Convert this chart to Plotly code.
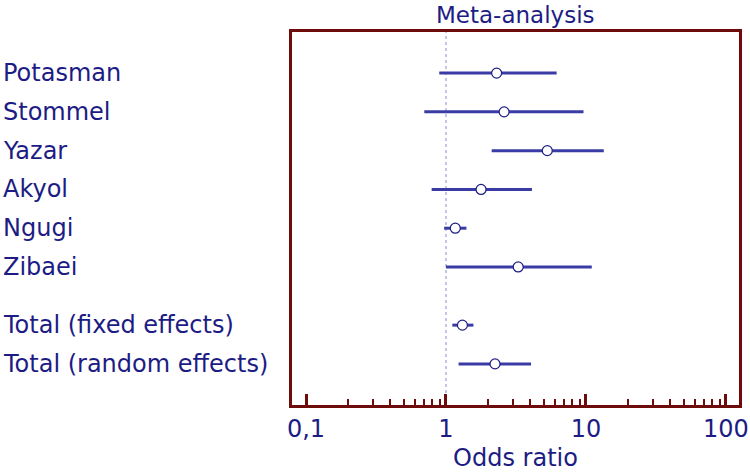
import plotly.graph_objects as go

studies = ["Potasman", "Stommel", "Yazar", "Akyol", "Ngugi", "Zibaei",
           "Total (fixed effects)", "Total (random effects)"]
row_pos = [0, 1, 2, 3, 4, 5, 6.5, 7.5]
odds = [2.30, 2.60, 5.29, 1.78, 1.165, 3.28, 1.31, 2.24]
ci_low = [0.895, 0.70, 2.12, 0.79, 0.97, 1.00, 1.11, 1.23]
ci_high = [6.17, 9.6, 13.4, 4.11, 1.40, 11.0, 1.57, 4.05]

major_ticks = [0.1, 1, 10, 100]
major_labels = ["0,1", "1", "10", "100"]
minor_ticks = [m * d for d in (0.1, 1, 10) for m in range(2, 10)]

navy = "#1c1c84"
line_col = "#3b3ba6"
frame_col = "#6e0c0c"
FONT = "DejaVu Sans, Verdana, Arial"

fig = go.Figure()

# CI lines
for i in range(len(studies)):
    fig.add_trace(go.Scatter(
        x=[ci_low[i], ci_high[i]], y=[row_pos[i], row_pos[i]],
        mode="lines", line=dict(color=line_col, width=3),
        showlegend=False, hoverinfo="skip"))

# point estimates
fig.add_trace(go.Scatter(
    x=odds, y=row_pos, mode="markers",
    marker=dict(symbol="circle", size=10, color="white",
                line=dict(color=navy, width=1.2)),
    showlegend=False))

# reference line at OR = 1
fig.add_shape(type="line", xref="x", yref="paper", x0=1, x1=1, y0=0, y1=1,
              line=dict(color="#8a8ad0", width=1, dash="dot"), layer="below")

# study labels
for name, y in zip(studies, row_pos):
    fig.add_annotation(text=name, xref="paper", yref="y", x=-0.6510, y=y,
                       xanchor="left", yanchor="middle", showarrow=False,
                       font=dict(family=FONT, size=24, color=navy))

# title
fig.add_annotation(text="Meta-analysis", xref="paper", yref="paper",
                   x=0.5, y=1, yshift=17, xanchor="center", yanchor="middle",
                   showarrow=False, font=dict(family=FONT, size=23, color=navy))

fig.update_layout(
    width=750, height=472,
    margin=dict(l=292, r=11, t=32, b=67, autoexpand=False),
    plot_bgcolor="white", paper_bgcolor="white",
    xaxis=dict(type="log", range=[-1.1, 2.093], automargin=False,
               tickvals=major_ticks, ticktext=major_labels,
               ticks="inside", ticklen=11, tickwidth=2.5, tickcolor=frame_col,
               minor=dict(tickvals=minor_ticks, ticks="inside", ticklen=6,
                          tickwidth=2, tickcolor=frame_col, showgrid=False),
               showgrid=False, zeroline=False,
               showline=True, linecolor=frame_col, linewidth=3, mirror=True,
               tickfont=dict(family=FONT, size=24, color=navy),
               title=dict(text="Odds ratio", standoff=15,
                          font=dict(family=FONT, size=24, color=navy))),
    yaxis=dict(range=[8.56, -1.06], showticklabels=False, ticks="", automargin=False,
               showgrid=False, zeroline=False,
               showline=True, linecolor=frame_col, linewidth=3, mirror=True),
)

fig.write_html("out.html", config={"displayModeBar": False},
               post_script="document.body.style.margin='0px';")
